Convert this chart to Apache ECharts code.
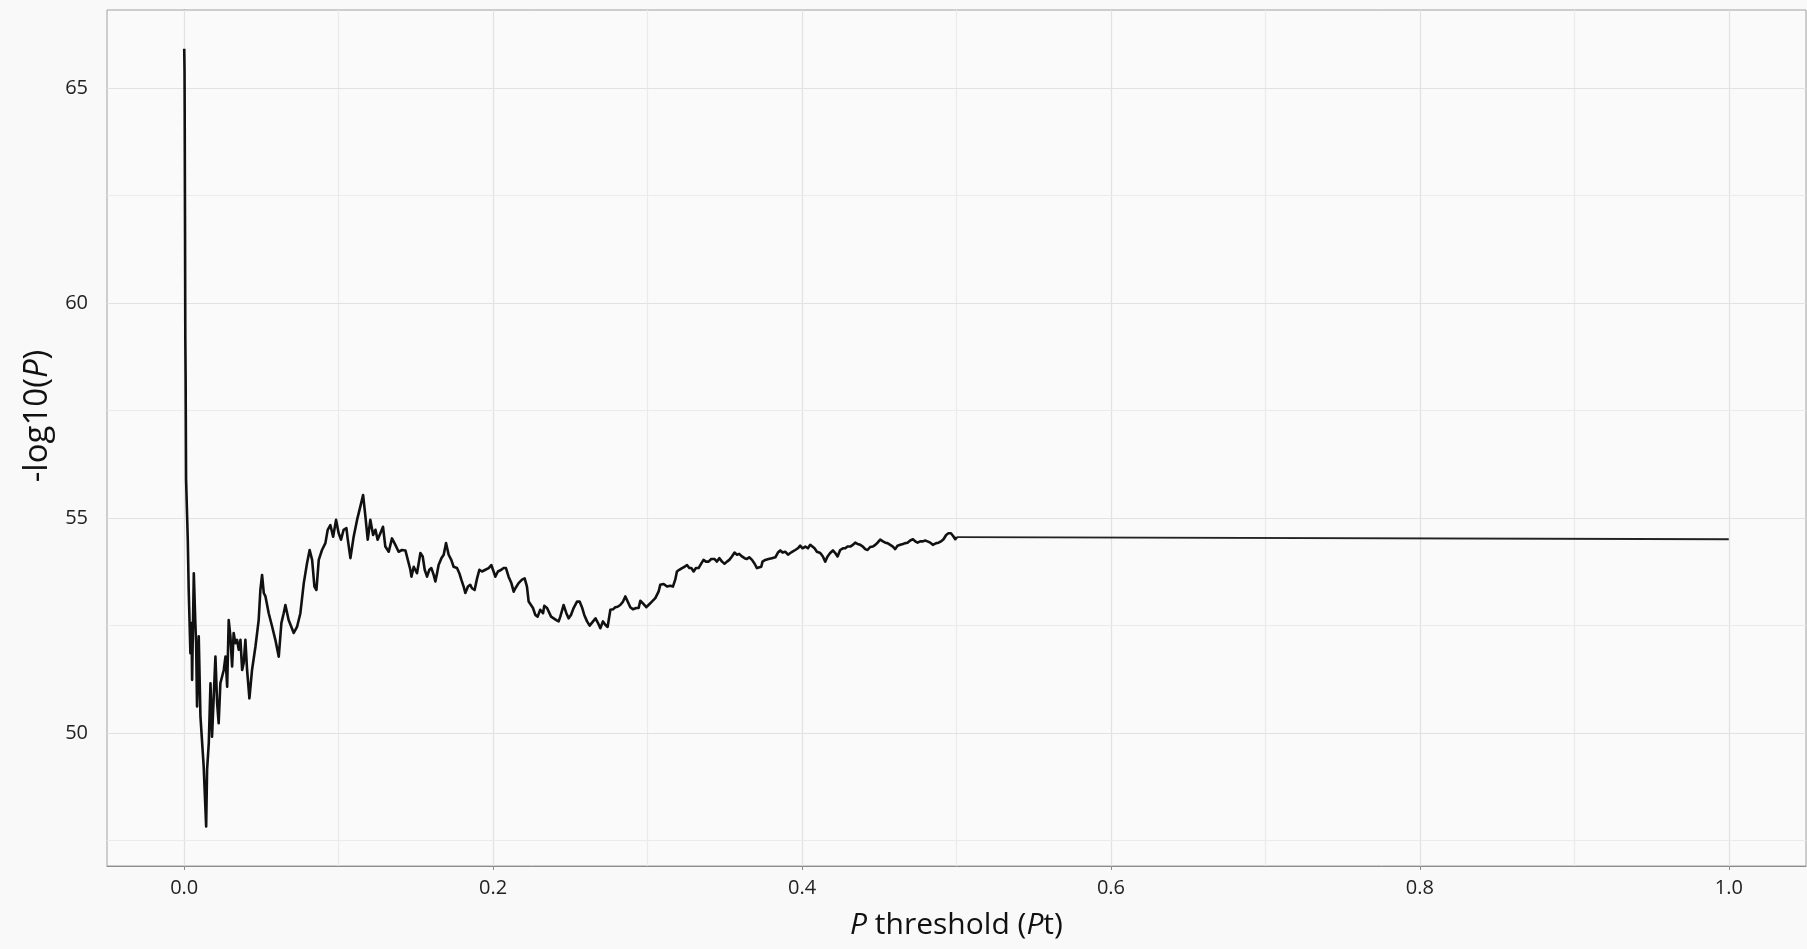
<!DOCTYPE html>
<html>
<head>
<meta charset="utf-8">
<script src="https://cdn.jsdelivr.net/npm/echarts@6/dist/echarts.min.js"></script>
<style>
html,body{margin:0;padding:0;background:#f9f9fa;}
#chart{width:1807px;height:949px;}
</style>
</head>
<body>
<div id="chart"></div>
<script>
// P threshold values (x)
const pt = [
0.0000,0.0002,0.0003,0.0005,0.0007,0.0009,0.0012,0.0023,0.0029,0.0040,
0.0047,0.0051,0.0062,0.0072,0.0077,0.0083,0.0094,0.0105,0.0126,0.0142,
0.0148,0.0159,0.0170,0.0180,0.0191,0.0202,0.0213,0.0223,0.0234,0.0256,
0.0267,0.0278,0.0288,0.0299,0.0310,0.0320,0.0331,0.0342,0.0353,0.0364,
0.0375,0.0385,0.0396,0.0407,0.0422,0.0439,0.0461,0.0482,0.0493,0.0504,
0.0515,0.0526,0.0547,0.0569,0.0590,0.0612,0.0629,0.0644,0.0655,0.0676,
0.0709,0.0731,0.0752,0.0774,0.0795,0.0812,0.0828,0.0843,0.0856,0.0871,
0.0892,0.0914,0.0929,0.0946,0.0964,0.0983,0.1000,0.1015,0.1032,0.1050,
0.1058,0.1076,0.1097,0.1119,0.1140,0.1158,0.1173,0.1188,0.1205,0.1223,
0.1238,0.1252,0.1270,0.1287,0.1302,0.1324,0.1345,0.1367,0.1388,0.1410,
0.1432,0.1443,0.1464,0.1471,0.1486,0.1496,0.1507,0.1518,0.1529,0.1544,
0.1557,0.1572,0.1587,0.1600,0.1615,0.1626,0.1637,0.1647,0.1665,0.1680,
0.1695,0.1712,0.1729,0.1744,0.1766,0.1781,0.1794,0.1809,0.1820,0.1837,
0.1852,0.1863,0.1880,0.1896,0.1911,0.1928,0.1950,0.1971,0.1988,0.2003,
0.2014,0.2031,0.2053,0.2068,0.2083,0.2100,0.2118,0.2133,0.2144,0.2165,
0.2187,0.2204,0.2219,0.2230,0.2258,0.2273,0.2288,0.2305,0.2323,0.2331,
0.2349,0.2359,0.2375,0.2392,0.2409,0.2424,0.2435,0.2456,0.2474,0.2489,
0.2504,0.2521,0.2543,0.2560,0.2575,0.2590,0.2608,0.2625,0.2647,0.2663,
0.2679,0.2694,0.2711,0.2726,0.2741,0.2759,0.2776,0.2791,0.2806,0.2823,
0.2841,0.2856,0.2871,0.2888,0.2905,0.2927,0.2942,0.2953,0.2970,0.2992,
0.3006,0.3028,0.3050,0.3071,0.3082,0.3104,0.3126,0.3147,0.3164,0.3179,
0.3190,0.3205,0.3223,0.3240,0.3255,0.3270,0.3283,0.3298,0.3313,0.3330,
0.3348,0.3362,0.3378,0.3395,0.3412,0.3434,0.3449,0.3464,0.3482,0.3498,
0.3514,0.3529,0.3546,0.3563,0.3579,0.3593,0.3611,0.3628,0.3643,0.3658,
0.3676,0.3693,0.3708,0.3718,0.3736,0.3744,0.3762,0.3783,0.3805,0.3827,
0.3844,0.3859,0.3874,0.3891,0.3909,0.3924,0.3938,0.3956,0.3973,0.3988,
0.4003,0.4021,0.4038,0.4053,0.4064,0.4081,0.4096,0.4118,0.4135,0.4150,
0.4165,0.4182,0.4200,0.4215,0.4230,0.4247,0.4265,0.4280,0.4294,0.4312,
0.4329,0.4344,0.4359,0.4377,0.4394,0.4409,0.4424,0.4441,0.4459,0.4474,
0.4489,0.4506,0.4524,0.4539,0.4553,0.4571,0.4588,0.4603,0.4618,0.4636,
0.4653,0.4668,0.4683,0.4700,0.4718,0.4733,0.4748,0.4765,0.4783,0.4797,
0.4812,0.4830,0.4847,0.4856,0.4869,0.4884,0.4899,0.4916,0.4933,0.4948,
0.4964,0.4977,0.4992,0.5003,1.0000
];
// -log10(P) values (y)
const logP = [
65.92,65.40,64.50,62.00,59.20,58.30,55.90,54.50,53.33,51.86,
52.56,51.24,53.72,52.56,52.09,50.62,52.25,50.39,49.22,47.83,
49.15,49.77,51.16,49.92,50.85,51.78,50.70,50.23,51.16,51.47,
51.78,51.08,52.63,52.25,51.55,52.33,52.09,52.17,51.94,52.17,
51.47,51.63,52.17,51.47,50.81,51.47,52.01,52.63,53.33,53.68,
53.26,53.18,52.79,52.48,52.17,51.78,52.56,52.79,52.98,52.63,
52.33,52.48,52.79,53.49,53.95,54.26,54.03,53.41,53.33,54.03,
54.26,54.42,54.73,54.84,54.57,54.96,54.65,54.50,54.73,54.77,
54.53,54.07,54.57,54.96,55.27,55.54,55.04,54.50,54.96,54.61,
54.73,54.50,54.65,54.80,54.34,54.22,54.53,54.38,54.22,54.26,
54.25,54.22,53.80,53.64,53.87,53.91,53.72,53.95,54.19,54.11,
53.80,53.64,53.80,53.84,53.68,53.53,53.72,53.91,54.07,54.15,
54.42,54.15,54.03,53.87,53.84,53.72,53.57,53.41,53.26,53.41,
53.45,53.37,53.33,53.60,53.80,53.76,53.80,53.84,53.91,53.76,
53.64,53.76,53.80,53.84,53.84,53.64,53.49,53.29,53.37,53.49,
53.57,53.60,53.41,53.06,52.91,52.75,52.71,52.87,52.79,52.96,
52.91,52.91,52.71,52.67,52.63,52.60,52.71,52.98,52.79,52.67,
52.75,52.91,53.06,53.06,52.93,52.75,52.60,52.50,52.60,52.67,
52.56,52.44,52.60,52.52,52.47,52.87,52.88,52.93,52.94,52.98,
53.06,53.18,53.06,52.93,52.88,52.91,52.91,53.08,53.02,52.93,
52.98,53.06,53.14,53.29,53.45,53.47,53.41,53.43,53.41,53.57,
53.76,53.80,53.84,53.87,53.91,53.84,53.84,53.76,53.84,53.84,
53.95,54.03,53.99,53.99,54.05,54.05,53.99,54.07,53.99,53.94,
53.99,54.03,54.11,54.20,54.15,54.17,54.11,54.07,54.05,54.09,
54.03,53.94,53.84,53.80,53.87,53.99,54.03,54.05,54.07,54.09,
54.20,54.25,54.20,54.22,54.15,54.19,54.22,54.26,54.30,54.36,
54.30,54.34,54.30,54.38,54.42,54.30,54.22,54.19,54.11,53.99,
54.11,54.19,54.25,54.19,54.11,54.26,54.30,54.30,54.34,54.34,
54.38,54.43,54.40,54.38,54.34,54.28,54.26,54.33,54.34,54.38,
54.43,54.50,54.46,54.43,54.42,54.38,54.34,54.28,54.36,54.38,
54.40,54.42,54.43,54.48,54.51,54.46,54.43,54.46,54.46,54.48,
54.46,54.43,54.38,54.34,54.42,54.43,54.46,54.51,54.61,54.65,
54.65,54.59,54.51,54.56,54.51
];
// tick labels and grid positions
const xTicks = [0, 0.2, 0.4, 0.6, 0.8, 1.0];
const xMinor = [0.1, 0.3, 0.5, 0.7, 0.9];
const yTicks = [50, 55, 60, 65];
const yMinor = [47.5, 52.5, 57.5, 62.5];
const xRange = [-0.05, 1.05];
const yRange = [46.91, 66.82];

const lineData = pt.map((x, i) => [x, logP[i]]);
const nWiggly = lineData.length - 1;           // points up to Pt = 0.5
const wigglyData = lineData.slice(0, nWiggly);
const flatData = lineData.slice(nWiggly - 1);  // flat tail from 0.5 to 1.0

const FONT = '"Open Sans", "Noto Sans", sans-serif';

const chart = echarts.init(document.getElementById('chart'), null, {renderer: 'canvas'});

const gridLines = [];
xTicks.forEach(v => gridLines.push({xAxis: v, lineStyle: {color: '#e2e2e2'}}));
xMinor.forEach(v => gridLines.push({xAxis: v, lineStyle: {color: '#ebebeb'}}));
yTicks.forEach(v => gridLines.push({yAxis: v, lineStyle: {color: '#e2e2e2'}}));
yMinor.forEach(v => gridLines.push({yAxis: v, lineStyle: {color: '#ebebeb'}}));

chart.setOption({
  backgroundColor: '#f9f9fa',
  animation: false,
  grid: {
    left: 107, right: 1, top: 10, bottom: 83,
    show: true, backgroundColor: '#fafafa', borderColor: '#a0a0a0', borderWidth: 1,
    containLabel: false
  },
  xAxis: {
    type: 'value',
    min: xRange[0], max: xRange[1],
    name: '{i|P} threshold ({i|P}t)',
    nameLocation: 'middle',
    nameGap: 44,
    nameTextStyle: {
      fontFamily: FONT, fontSize: 30, color: '#111',
      rich: {i: {fontFamily: FONT, fontSize: 30, fontStyle: 'italic', color: '#111'}}
    },
    axisLine: {show: true, onZero: false, lineStyle: {color: '#8c8c8c', width: 1}},
    axisTick: {show: true, length: 4, customValues: xTicks, lineStyle: {color: '#8c8c8c'}},
    axisLabel: {
      customValues: xTicks, fontFamily: FONT, fontSize: 20, color: '#222', margin: 12,
      formatter: v => v.toFixed(1)
    },
    splitLine: {show: false}
  },
  yAxis: {
    type: 'value',
    min: yRange[0], max: yRange[1],
    name: '-log10({i|P})',
    nameLocation: 'middle',
    nameGap: 50,
    nameRotate: 90,
    nameTextStyle: {
      fontFamily: FONT, fontSize: 33, color: '#111', padding: [0, 0, 0, 44],
      rich: {i: {fontFamily: FONT, fontSize: 33, fontStyle: 'italic', color: '#111'}}
    },
    axisLine: {show: true, lineStyle: {color: '#8c8c8c', width: 1}},
    axisTick: {show: true, length: 4, customValues: yTicks, lineStyle: {color: '#8c8c8c'}},
    axisLabel: {
      customValues: yTicks, fontFamily: FONT, fontSize: 20, color: '#222', margin: 19
    },
    splitLine: {show: false}
  },
  series: [
    {
      type: 'line',
      data: lineData,
      showSymbol: false,
      silent: true,
      z: 1,
      lineStyle: {opacity: 0},
      markLine: {
        silent: true,
        symbol: ['none', 'none'],
        label: {show: false},
        lineStyle: {type: 'solid', width: 1.2},
        data: gridLines
      }
    },
    {
      type: 'line',
      data: wigglyData,
      showSymbol: false,
      z: 5,
      lineStyle: {color: '#111111', width: 2.6, join: 'round'},
      emphasis: {disabled: true}
    },
    {
      type: 'line',
      data: flatData,
      showSymbol: false,
      z: 5,
      lineStyle: {color: '#222222', width: 1.8},
      emphasis: {disabled: true}
    }
  ]
});
</script>
</body>
</html>
